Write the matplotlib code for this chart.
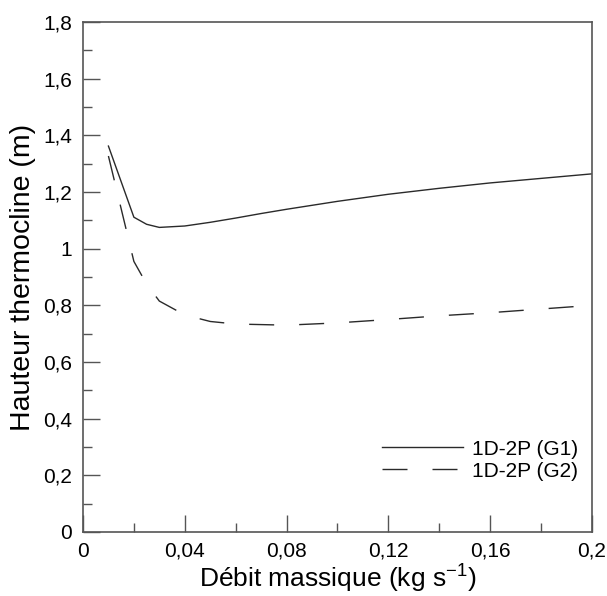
import matplotlib
matplotlib.use("Agg")
import matplotlib.pyplot as plt
from matplotlib.ticker import MultipleLocator, FuncFormatter

plt.rcParams['font.family'] = ['Liberation Sans', 'DejaVu Sans']
plt.rcParams['lines.scale_dashes'] = False

x_g1 = [0.01, 0.02, 0.025, 0.03, 0.04, 0.05, 0.06, 0.07, 0.08, 0.09, 0.10, 0.12, 0.14, 0.16, 0.18, 0.20]
y_g1 = [1.362, 1.111, 1.086, 1.075, 1.080, 1.093, 1.108, 1.124, 1.139, 1.153, 1.167, 1.192, 1.213, 1.232, 1.248, 1.264]

x_g2 = [0.01, 0.02, 0.025, 0.03, 0.04, 0.05, 0.06, 0.08, 0.10, 0.12, 0.14, 0.16, 0.18, 0.20]
y_g2 = [1.327, 0.955, 0.875, 0.815, 0.766, 0.743, 0.734, 0.730, 0.738, 0.750, 0.763, 0.774, 0.787, 0.800]

labels = ["1D-2P (G1)", "1D-2P (G2)"]

fig = plt.figure(figsize=(6.07, 5.96), dpi=100)
ax = fig.add_axes([0.1367, 0.1074, 0.8386, 0.8557])

lc = '#2a2a2a'
ax.plot(x_g1, y_g1, color=lc, lw=1.0, label=labels[0])
ax.plot(x_g2, y_g2, color=lc, lw=1.0, dashes=(18, 18), label=labels[1])

ax.set_xlim(0, 0.2)
ax.set_ylim(0, 1.8)

def fmt(v, pos):
    s = f"{v:.2f}".rstrip('0').rstrip('.')
    return s.replace('.', ',')

ax.xaxis.set_major_locator(MultipleLocator(0.04))
ax.xaxis.set_minor_locator(MultipleLocator(0.02))
ax.yaxis.set_major_locator(MultipleLocator(0.2))
ax.yaxis.set_minor_locator(MultipleLocator(0.1))
ax.xaxis.set_major_formatter(FuncFormatter(fmt))
ax.yaxis.set_major_formatter(FuncFormatter(fmt))

sc = '#555555'
for s in ax.spines.values():
    s.set_color(sc)
    s.set_linewidth(1.2)

ax.tick_params(which='both', direction='in', color=sc, width=1.0, labelsize=15, top=False, right=False)
ax.tick_params(which='major', length=12)
ax.tick_params(which='minor', length=6.5)
ax.tick_params(axis='y', which='major', pad=8)
ax.tick_params(axis='x', which='major', pad=7)

ax.set_xlabel("Débit massique (kg s$^{\\mathregular{-1}}$)", fontsize=19, labelpad=0)
ax.set_ylabel("Hauteur thermocline (m)", fontsize=20.5, labelpad=5)

leg = ax.legend(loc='center right', frameon=False, fontsize=15, handlelength=3.85,
                handletextpad=0.45, labelspacing=0.15, borderpad=0, borderaxespad=0,
                bbox_to_anchor=(0.9725, 0.141))

fig.savefig("out.png", dpi=100)
